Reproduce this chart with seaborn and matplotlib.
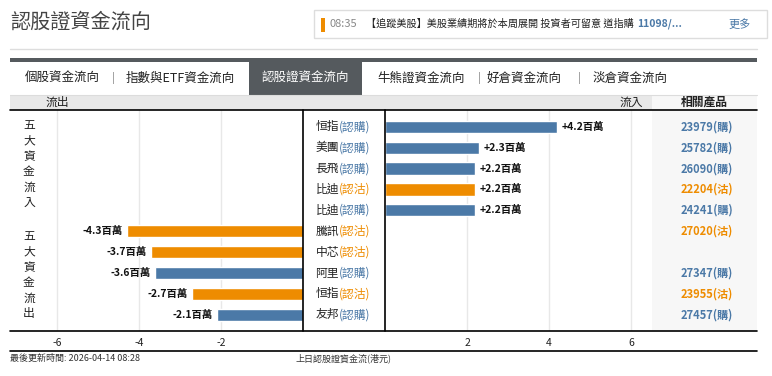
import matplotlib
matplotlib.use("Agg")
import matplotlib.pyplot as plt
import matplotlib.transforms as mtransforms
from matplotlib.patches import Rectangle
from matplotlib.lines import Line2D
import pandas as pd
import seaborn as sns

# top five inflows
in_names = ["恒指", "美團", "長飛", "比迪", "比迪"]
in_types = ["認購", "認購", "認購", "認沽", "認購"]
in_values = [4.2, 2.3, 2.2, 2.2, 2.2]
in_products = ["23979", "25782", "26090", "22204", "24241"]

# top five outflows
out_names = ["騰訊", "中芯", "阿里", "恒指", "友邦"]
out_types = ["認沽", "認沽", "認購", "認沽", "認購"]
out_values = [-4.3, -3.7, -3.6, -2.7, -2.1]
out_products = ["27020", "", "27347", "23955", "27457"]

left_ticks = [-6, -4, -2]
right_ticks = [2, 4, 6]

tabs = ["個股資金流向", "指數與ETF資金流向", "認股證資金流向", "牛熊證資金流向", "好倉資金流向", "淡倉資金流向"]
active_tab = 2

BLUE = "#4b79a7"
ORANGE = "#ee8c00"
type_colors = {"認購": BLUE, "認沽": ORANGE}

W, H = 772, 376


def fx(x):
    return x / W


def fy(y):
    return 1 - y / H


sns.set_theme(style="white")
plt.rcParams["font.family"] = ["Noto Sans CJK TC", "DejaVu Sans"]

fig = plt.figure(figsize=(W / 100, H / 100), dpi=100)
fig.patch.set_facecolor("white")
renderer = fig.canvas.get_renderer()


def rect(x0, y0, x1, y1, **kw):
    fig.patches.append(Rectangle((fx(x0), fy(y1)), (x1 - x0) / W, (y1 - y0) / H,
                                 transform=fig.transFigure, **kw))


def hline(x0, x1, y, **kw):
    fig.lines.append(Line2D([fx(x0), fx(x1)], [fy(y), fy(y)], transform=fig.transFigure, **kw))


def vline(x, y0, y1, **kw):
    fig.lines.append(Line2D([fx(x), fx(x)], [fy(y0), fy(y1)], transform=fig.transFigure, **kw))


# ---- page header ----
fig.text(fx(10), fy(22), "認股證資金流向", fontsize=14.5, color="#444444", va="center")
rect(314, 10, 767, 38, facecolor="white", edgecolor="#dddddd", lw=1)
rect(321, 18, 325, 32, facecolor=ORANGE, edgecolor="none")
fig.text(fx(330), fy(24), "08:35", fontsize=8, color="#888888", va="center")
news = fig.text(fx(366), fy(24), "【追蹤美股】美股業績期將於本周展開 投資者可留意 道指購",
                fontsize=7.3, color="#222222", va="center")
news_end = news.get_window_extent(renderer).x1
fig.text(news_end / W + fx(3), fy(24), "11098/...", fontsize=7.5, color=BLUE, va="center",
         fontweight="bold")
fig.text(fx(740), fy(24), "更多", fontsize=8, color=BLUE, va="center", ha="center")

hline(10, 757, 49, color="#dddddd", lw=1)
rect(10, 58, 757, 62, facecolor="#555a5e", edgecolor="none")

# ---- tabs ----
tab_centers = [62, 180, 305, 421, 524, 630]
sep_x = [113, 479, 579]
rect(249, 62, 362, 95, facecolor="#555a5e", edgecolor="none")
for i, (name, cx) in enumerate(zip(tabs, tab_centers)):
    fig.text(fx(cx), fy(78), name, fontsize=9, ha="center", va="center",
             color="white" if i == active_tab else "#222222")
for sx in sep_x:
    fig.text(fx(sx), fy(78), "|", fontsize=8, ha="center", va="center", color="#888888")

# ---- column header ----
rect(10, 95, 652, 110, facecolor="#e8e8e8", edgecolor="none")
rect(652, 95, 757, 331, facecolor="#f7f7f7", edgecolor="none")
hline(10, 757, 95, color="#dcdcdc", lw=0.8)
fig.text(fx(57), fy(102.5), "流出", fontsize=8.5, ha="center", va="center", color="#222222")
fig.text(fx(631), fy(102.5), "流入", fontsize=8.5, ha="center", va="center", color="#222222")
fig.text(fx(704), fy(102.5), "相關產品", fontsize=8.5, ha="center", va="center",
         color="#222222", fontweight="bold")

# ---- data frames ----
rows = [f"r{i}" for i in range(len(in_names) + len(out_names))]
df_in = pd.DataFrame({"row": rows[:len(in_names)], "value": in_values, "type": in_types})
df_out = pd.DataFrame({"row": rows[len(in_names):], "value": out_values, "type": out_types})
names = in_names + out_names
types = in_types + out_types
products = in_products + out_products

px_per_unit = 41.0
ax_l = fig.add_axes([fx(10), fy(331), 293 / W, 221 / H])
ax_r = fig.add_axes([fx(385), fy(331), 372 / W, 221 / H])

for ax, df in [(ax_l, df_out), (ax_r, df_in)]:
    ax.set_facecolor("none")
    sns.barplot(data=df, x="value", y="row", hue="type", order=rows,
                palette=type_colors, dodge=False, width=0.58, legend=False,
                saturation=1, ax=ax)
    for c in ax.containers:
        ax.bar_label(c, fmt=lambda v: f"{v:+.1f}百萬", padding=3, fontsize=7.5,
                     fontweight="bold", color="#111111")
    ax.set_ylim(9.77, -0.8)
    ax.set_ylabel("")
    ax.set_xlabel("")
    ax.set_yticks([])
    ax.grid(axis="x", color="#e8e8e8", lw=1)
    ax.set_axisbelow(True)
    ax.tick_params(axis="x", length=0, pad=5, labelsize=7.5, labelcolor="#222222")
    for s in ["top", "bottom", "left", "right"]:
        ax.spines[s].set_visible(False)

ax_l.set_xlim(-293 / px_per_unit, 0)
ax_l.set_xticks(left_ticks)
ax_l.set_xticklabels([str(v) for v in left_ticks])
ax_r.set_xlim(0, 372 / px_per_unit)
ax_r.set_xticks(right_ticks)
ax_r.set_xticklabels([str(v) for v in right_ticks])

# frame lines
hline(10, 757, 110, color="black", lw=1.2)
hline(10, 757, 331, color="black", lw=1.2)
vline(303, 110, 331, color="black", lw=1.2)
vline(385, 110, 331, color="black", lw=1.2)
hline(10, 757, 351, color="black", lw=1.2)

# middle category labels and right-hand products
mid = mtransforms.blended_transform_factory(fig.transFigure, ax_l.transData)
prod = mtransforms.blended_transform_factory(fig.transFigure, ax_r.transData)
for i, (nm, tp, pr) in enumerate(zip(names, types, products)):
    col = type_colors[tp]
    fig.text(fx(339), i, nm, transform=mid, fontsize=8.5, ha="right", va="center", color="#222222")
    fig.text(fx(339), i, f"({tp})", transform=mid, fontsize=8.5, ha="left", va="center", color=col)
    if pr:
        fig.text(fx(707), i, f"{pr}({tp[-1]})", transform=prod, fontsize=8, ha="center",
                 va="center", color=col, fontweight="bold")

# vertical group labels
fig.text(fx(29), fy(164), "\n".join("五大資金流入"), fontsize=8.5, ha="center", va="center",
         linespacing=1.23, color="#222222")
fig.text(fx(29), fy(275), "\n".join("五大資金流出"), fontsize=8.5, ha="center", va="center",
         linespacing=1.23, color="#222222")

# footer
fig.text(fx(10), fy(358), "最後更新時間: 2026-04-14 08:28", fontsize=6.5, va="center", color="#333333")
fig.text(fx(344), fy(358), "上日認股證資金流(港元)", fontsize=6.5, ha="center", va="center", color="#333333")

fig.savefig("out.png", dpi=100, facecolor="white")
